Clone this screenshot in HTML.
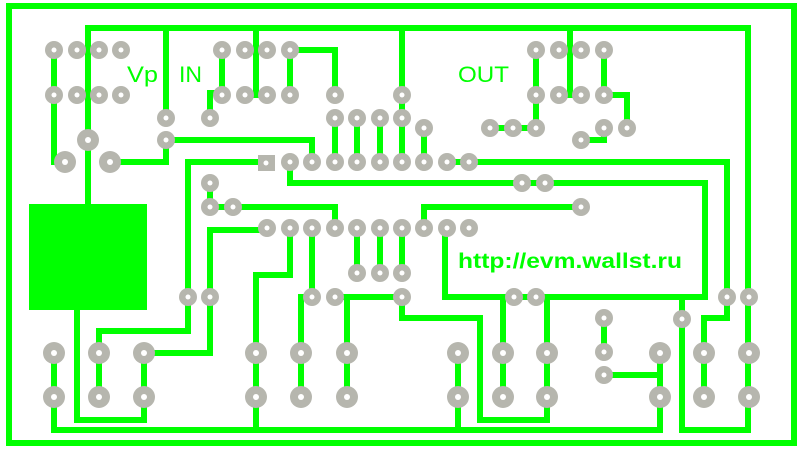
<!DOCTYPE html>
<html><head><meta charset="utf-8"><style>html,body{margin:0;padding:0;background:#fff}svg{display:block}</style></head>
<body>
<svg width="801" height="449" viewBox="0 0 801 449" xmlns="http://www.w3.org/2000/svg">
<rect width="801" height="449" fill="#fff"/>
<g fill="none" stroke="#00ff00" stroke-width="6" stroke-linejoin="miter" stroke-linecap="square">
<rect x="9" y="6" width="785" height="437"/>
<polyline points="88,204 88,28 748,28 748,430 682,430 682,297"/>
<line x1="166" y1="28" x2="166" y2="118"/>
<line x1="256" y1="28" x2="256" y2="95"/>
<line x1="402" y1="28" x2="402" y2="162"/>
<line x1="570" y1="28" x2="570" y2="95"/>
<polyline points="54,50 54,162 65,162"/>
<polyline points="110,162 166,162 166,140 312,140 312,162"/>
<polyline points="210,118 210,93 222,93"/>
<line x1="222" y1="50" x2="222" y2="95"/>
<polyline points="290,95 290,50 335,50 335,95"/>
<line x1="335" y1="118" x2="335" y2="162"/>
<line x1="357" y1="118" x2="357" y2="162"/>
<line x1="380" y1="118" x2="380" y2="162"/>
<line x1="424" y1="128" x2="424" y2="162"/>
<polyline points="447,162 727,162 727,318 704,318 704,397"/>
<polyline points="290,162 290,183 705,183 705,297 445,297 445,228"/>
<polyline points="536,50 536,128 490,128"/>
<polyline points="604,50 604,95 627,95 627,128"/>
<polyline points="581,140 604,140 604,128"/>
<polyline points="581,207 424,207 424,228"/>
<polyline points="604,318 604,352"/>
<polyline points="604,375 660,375"/>
<line x1="660" y1="352" x2="660" y2="430"/>
<polyline points="54,352 54,430 660,430"/>
<line x1="748" y1="352" x2="748" y2="397"/>
<polyline points="267,162 188,162 188,331 99,331 99,397"/>
<polyline points="258,230 210,230 210,353 144,353 144,420 77,420 77,310"/>
<polyline points="210,183 210,207 335,207 335,228"/>
<line x1="357" y1="228" x2="357" y2="273"/>
<line x1="380" y1="228" x2="380" y2="273"/>
<line x1="402" y1="228" x2="402" y2="273"/>
<polyline points="402,297 402,318 480,318 480,420 547,420 547,397"/>
<polyline points="335,297 402,297"/>
<polyline points="347,297 347,397"/>
<polyline points="312,228 312,297 301,297 301,397"/>
<polyline points="290,228 290,275 256,275 256,430"/>
<line x1="458" y1="353" x2="458" y2="430"/>
<polyline points="514,297 503,297 503,397"/>
<polyline points="536,297 547,297 547,397"/>
</g>
<rect x="29" y="204" width="118" height="106" fill="#00ff00"/>
<g fill="#b6b6ae">
<rect x="258" y="155" width="17" height="16"/>
</g>
<g fill="#b6b6ae" id="pads">
<!-- small pads r=9 -->
<circle cx="54" cy="50" r="9"/><circle cx="77" cy="50" r="9"/><circle cx="99" cy="50" r="9"/><circle cx="121" cy="50" r="9"/>
<circle cx="54" cy="95" r="9"/><circle cx="77" cy="95" r="9"/><circle cx="99" cy="95" r="9"/><circle cx="121" cy="95" r="9"/>
<circle cx="222" cy="50" r="9"/><circle cx="245" cy="50" r="9"/><circle cx="267" cy="50" r="9"/><circle cx="290" cy="50" r="9"/>
<circle cx="222" cy="95" r="9"/><circle cx="245" cy="95" r="9"/><circle cx="267" cy="95" r="9"/><circle cx="290" cy="95" r="9"/>
<circle cx="335" cy="95" r="9"/><circle cx="402" cy="95" r="9"/>
<circle cx="166" cy="118" r="9"/><circle cx="166" cy="140" r="9"/><circle cx="210" cy="118" r="9"/>
<circle cx="335" cy="118" r="9"/><circle cx="357" cy="118" r="9"/><circle cx="380" cy="118" r="9"/><circle cx="402" cy="118" r="9"/><circle cx="424" cy="128" r="9"/>
<circle cx="290" cy="162" r="9"/><circle cx="312" cy="162" r="9"/><circle cx="335" cy="162" r="9"/><circle cx="357" cy="162" r="9"/><circle cx="380" cy="162" r="9"/><circle cx="402" cy="162" r="9"/><circle cx="424" cy="162" r="9"/><circle cx="447" cy="162" r="9"/><circle cx="469" cy="162" r="9"/>
<circle cx="536" cy="50" r="9"/><circle cx="559" cy="50" r="9"/><circle cx="581" cy="50" r="9"/><circle cx="604" cy="50" r="9"/>
<circle cx="536" cy="95" r="9"/><circle cx="559" cy="95" r="9"/><circle cx="581" cy="95" r="9"/><circle cx="604" cy="95" r="9"/>
<circle cx="490" cy="128" r="9"/><circle cx="513" cy="128" r="9"/><circle cx="536" cy="128" r="9"/>
<circle cx="604" cy="128" r="9"/><circle cx="627" cy="128" r="9"/><circle cx="581" cy="140" r="9"/>
<circle cx="522" cy="183" r="9"/><circle cx="545" cy="183" r="9"/>
<circle cx="210" cy="183" r="9"/><circle cx="210" cy="207" r="9"/><circle cx="233" cy="207" r="9"/><circle cx="581" cy="207" r="9"/>
<circle cx="267" cy="228" r="9"/><circle cx="290" cy="228" r="9"/><circle cx="312" cy="228" r="9"/><circle cx="335" cy="228" r="9"/><circle cx="357" cy="228" r="9"/><circle cx="380" cy="228" r="9"/><circle cx="402" cy="228" r="9"/><circle cx="424" cy="228" r="9"/><circle cx="447" cy="228" r="9"/><circle cx="469" cy="228" r="9"/>
<circle cx="357" cy="273" r="9"/><circle cx="380" cy="273" r="9"/><circle cx="402" cy="273" r="9"/>
<circle cx="188" cy="297" r="9"/><circle cx="210" cy="297" r="9"/><circle cx="312" cy="297" r="9"/><circle cx="335" cy="297" r="9"/><circle cx="402" cy="297" r="9"/>
<circle cx="514" cy="297" r="9"/><circle cx="536" cy="297" r="9"/><circle cx="727" cy="297" r="9"/><circle cx="749" cy="297" r="9"/>
<circle cx="682" cy="319" r="9"/><circle cx="604" cy="318" r="9"/><circle cx="604" cy="352" r="9"/><circle cx="604" cy="375" r="9"/>
<!-- large pads -->
<circle cx="88" cy="140" r="11"/><circle cx="65" cy="162" r="11"/><circle cx="110" cy="162" r="11"/>
<circle cx="54" cy="353" r="11"/><circle cx="99" cy="353" r="11"/><circle cx="144" cy="353" r="11"/><circle cx="256" cy="353" r="11"/><circle cx="301" cy="353" r="11"/><circle cx="347" cy="353" r="11"/><circle cx="458" cy="353" r="11"/><circle cx="503" cy="353" r="11"/><circle cx="547" cy="353" r="11"/><circle cx="660" cy="353" r="11"/><circle cx="704" cy="353" r="11"/><circle cx="749" cy="353" r="11"/>
<circle cx="54" cy="397" r="11"/><circle cx="99" cy="397" r="11"/><circle cx="144" cy="397" r="11"/><circle cx="256" cy="397" r="11"/><circle cx="301" cy="397" r="11"/><circle cx="347" cy="397" r="11"/><circle cx="458" cy="397" r="11"/><circle cx="503" cy="397" r="11"/><circle cx="547" cy="397" r="11"/><circle cx="660" cy="397" r="11"/><circle cx="704" cy="397" r="11"/><circle cx="749" cy="397" r="11"/>
</g>
<g fill="#fff">
<circle cx="54" cy="50" r="2.5"/><circle cx="77" cy="50" r="2.5"/><circle cx="99" cy="50" r="2.5"/><circle cx="121" cy="50" r="2.5"/>
<circle cx="54" cy="95" r="2.5"/><circle cx="77" cy="95" r="2.5"/><circle cx="99" cy="95" r="2.5"/><circle cx="121" cy="95" r="2.5"/>
<circle cx="222" cy="50" r="2.5"/><circle cx="245" cy="50" r="2.5"/><circle cx="267" cy="50" r="2.5"/><circle cx="290" cy="50" r="2.5"/>
<circle cx="222" cy="95" r="2.5"/><circle cx="245" cy="95" r="2.5"/><circle cx="267" cy="95" r="2.5"/><circle cx="290" cy="95" r="2.5"/>
<circle cx="335" cy="95" r="2.5"/><circle cx="402" cy="95" r="2.5"/>
<circle cx="166" cy="118" r="2.5"/><circle cx="166" cy="140" r="2.5"/><circle cx="210" cy="118" r="2.5"/>
<circle cx="335" cy="118" r="2.5"/><circle cx="357" cy="118" r="2.5"/><circle cx="380" cy="118" r="2.5"/><circle cx="402" cy="118" r="2.5"/><circle cx="424" cy="128" r="2.5"/>
<circle cx="266" cy="163" r="2.5"/><circle cx="290" cy="162" r="2.5"/><circle cx="312" cy="162" r="2.5"/><circle cx="335" cy="162" r="2.5"/><circle cx="357" cy="162" r="2.5"/><circle cx="380" cy="162" r="2.5"/><circle cx="402" cy="162" r="2.5"/><circle cx="424" cy="162" r="2.5"/><circle cx="447" cy="162" r="2.5"/><circle cx="469" cy="162" r="2.5"/>
<circle cx="536" cy="50" r="2.5"/><circle cx="559" cy="50" r="2.5"/><circle cx="581" cy="50" r="2.5"/><circle cx="604" cy="50" r="2.5"/>
<circle cx="536" cy="95" r="2.5"/><circle cx="559" cy="95" r="2.5"/><circle cx="581" cy="95" r="2.5"/><circle cx="604" cy="95" r="2.5"/>
<circle cx="490" cy="128" r="2.5"/><circle cx="513" cy="128" r="2.5"/><circle cx="536" cy="128" r="2.5"/>
<circle cx="604" cy="128" r="2.5"/><circle cx="627" cy="128" r="2.5"/><circle cx="581" cy="140" r="2.5"/>
<circle cx="522" cy="183" r="2.5"/><circle cx="545" cy="183" r="2.5"/>
<circle cx="210" cy="183" r="2.5"/><circle cx="210" cy="207" r="2.5"/><circle cx="233" cy="207" r="2.5"/><circle cx="581" cy="207" r="2.5"/>
<circle cx="267" cy="228" r="2.5"/><circle cx="290" cy="228" r="2.5"/><circle cx="312" cy="228" r="2.5"/><circle cx="335" cy="228" r="2.5"/><circle cx="357" cy="228" r="2.5"/><circle cx="380" cy="228" r="2.5"/><circle cx="402" cy="228" r="2.5"/><circle cx="424" cy="228" r="2.5"/><circle cx="447" cy="228" r="2.5"/><circle cx="469" cy="228" r="2.5"/>
<circle cx="357" cy="273" r="2.5"/><circle cx="380" cy="273" r="2.5"/><circle cx="402" cy="273" r="2.5"/>
<circle cx="188" cy="297" r="2.5"/><circle cx="210" cy="297" r="2.5"/><circle cx="312" cy="297" r="2.5"/><circle cx="335" cy="297" r="2.5"/><circle cx="402" cy="297" r="2.5"/>
<circle cx="514" cy="297" r="2.5"/><circle cx="536" cy="297" r="2.5"/><circle cx="727" cy="297" r="2.5"/><circle cx="749" cy="297" r="2.5"/>
<circle cx="682" cy="319" r="2.5"/><circle cx="604" cy="318" r="2.5"/><circle cx="604" cy="352" r="2.5"/><circle cx="604" cy="375" r="2.5"/>
<circle cx="88" cy="140" r="3"/><circle cx="65" cy="162" r="3"/><circle cx="110" cy="162" r="3"/>
<circle cx="54" cy="353" r="3"/><circle cx="99" cy="353" r="3"/><circle cx="144" cy="353" r="3"/><circle cx="256" cy="353" r="3"/><circle cx="301" cy="353" r="3"/><circle cx="347" cy="353" r="3"/><circle cx="458" cy="353" r="3"/><circle cx="503" cy="353" r="3"/><circle cx="547" cy="353" r="3"/><circle cx="660" cy="353" r="3"/><circle cx="704" cy="353" r="3"/><circle cx="749" cy="353" r="3"/>
<circle cx="54" cy="397" r="3"/><circle cx="99" cy="397" r="3"/><circle cx="144" cy="397" r="3"/><circle cx="256" cy="397" r="3"/><circle cx="301" cy="397" r="3"/><circle cx="347" cy="397" r="3"/><circle cx="458" cy="397" r="3"/><circle cx="503" cy="397" r="3"/><circle cx="547" cy="397" r="3"/><circle cx="660" cy="397" r="3"/><circle cx="704" cy="397" r="3"/><circle cx="749" cy="397" r="3"/>
</g>
<g fill="#00ff00" font-family="Liberation Sans, sans-serif">
<text x="127" y="82" font-size="22" textLength="31" lengthAdjust="spacingAndGlyphs">Vp</text>
<text x="179" y="82" font-size="22" textLength="23" lengthAdjust="spacingAndGlyphs">IN</text>
<text x="458" y="82" font-size="22" textLength="51" lengthAdjust="spacingAndGlyphs">OUT</text>
<text x="458" y="268" font-size="21" font-weight="bold" textLength="224" lengthAdjust="spacingAndGlyphs">http://evm.wallst.ru</text>
</g>
</svg>
</body></html>
